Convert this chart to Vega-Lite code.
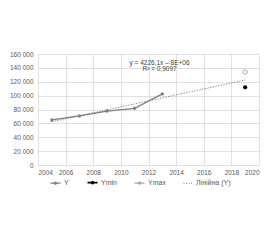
{
  "$schema": "https://vega.github.io/schema/vega-lite/v6.json",
  "width": 221,
  "height": 111,
  "autosize": "none",
  "padding": {"left": 38, "top": 54, "right": 21, "bottom": 75},
  "background": "white",
  "config": {
    "view": {"stroke": null},
    "font": "Liberation Sans",
    "axis": {"labelFontSize": 6.5, "labelColor": "#595959", "gridColor": "#d9d9d9", "gridWidth": 0.8, "domain": false, "ticks": false, "title": null}
  },
  "data": {"values": [
    {"year": 2005, "series": "Y", "value": 65000},
    {"year": 2007, "series": "Y", "value": 70800},
    {"year": 2009, "series": "Y", "value": 77800},
    {"year": 2011, "series": "Y", "value": 81700},
    {"year": 2013, "series": "Y", "value": 102500},
    {"year": 2019, "series": "Ymin", "value": 112000},
    {"year": 2019, "series": "Ymax", "value": 134000}
  ]},
  "encoding": {
    "x": {"field": "year", "type": "quantitative", "scale": {"domain": [2004, 2020], "nice": false, "zero": false},
      "axis": {"values": [2004, 2006, 2008, 2010, 2012, 2014, 2016, 2018, 2020], "format": "d", "labelPadding": 4, "gridColor": "#d9d9d9"}},
    "y": {"field": "value", "type": "quantitative", "scale": {"domain": [0, 160000], "nice": false},
      "axis": {"values": [0, 20000, 40000, 60000, 80000, 100000, 120000, 140000, 160000], "labelExpr": "replace(format(datum.value, ',d'), ',', ' ')", "labelPadding": 5}}
  },
  "layer": [
    {
      "transform": [{"filter": "datum.series === 'Y'"}, {"regression": "value", "on": "year", "extent": [2005, 2019]}],
      "mark": {"type": "line", "strokeDash": [1.2, 1.5], "strokeWidth": 1},
      "encoding": {"color": {"datum": "Лінійна (Y)", "type": "nominal",
        "scale": {"domain": ["Y", "Ymin", "Ymax", "Лінійна (Y)"], "range": ["#7f7f7f", "#000000", "#a6a6a6", "#7f7f7f"]},
        "legend": {"title": null, "orient": "none", "legendX": 14, "legendY": 125, "direction": "horizontal", "labelFontSize": 7, "labelColor": "#595959", "symbolSize": 400, "columnPadding": 15, "labelOffset": 5,
          "encode": {"symbols": {"update": {
            "shape": {"signal": "datum.value === 'Лінійна (Y)' ? 'M-0.4,0H0.5' : datum.value === 'Ymax' ? 'M-0.5,0H-0.11M0.11,0H0.5M0.11,0A0.11,0.11 0 1 1 -0.11,0A0.11,0.11 0 1 1 0.11,0' : 'M-0.5,0H0.5M0.1,0A0.1,0.1 0 1 1 -0.1,0A0.1,0.1 0 1 1 0.1,0'"},
            "fill": {"signal": "datum.value === 'Ymax' ? 'white' : datum.value === 'Лінійна (Y)' ? 'transparent' : datum.value === 'Ymin' ? 'black' : '#7f7f7f'"},
            "stroke": {"signal": "datum.value === 'Ymin' ? 'black' : datum.value === 'Ymax' ? '#a6a6a6' : '#7f7f7f'"},
            "strokeDash": {"signal": "datum.value === 'Лінійна (Y)' ? [1, 1.5] : [1, 0]"},
            "strokeWidth": {"signal": "datum.value === 'Ymin' ? 1.6 : 1.1"},
            "opacity": {"value": 1}
          }}}
        }}}
    },
    {
      "transform": [{"filter": "datum.series === 'Y'"}],
      "mark": {"type": "line", "strokeWidth": 1.3, "point": {"filled": true, "size": 12}},
      "encoding": {"color": {"datum": "Y", "type": "nominal"}}
    },
    {
      "transform": [{"filter": "datum.series === 'Ymin'"}],
      "mark": {"type": "point", "filled": true, "size": 18, "opacity": 1},
      "encoding": {"color": {"datum": "Ymin", "type": "nominal"}}
    },
    {
      "transform": [{"filter": "datum.series === 'Ymax'"}],
      "mark": {"type": "point", "filled": false, "fill": "white", "size": 18, "strokeWidth": 1, "opacity": 1},
      "encoding": {"color": {"datum": "Ymax", "type": "nominal"}}
    },
    {
      "data": {"values": [
        {"year": 2012.8, "value": 147500, "label": "y = 4226,1x – 8E+06"},
        {"year": 2012.8, "value": 139000, "label": "R² = 0,9097"}
      ]},
      "mark": {"type": "text", "fontSize": 6.5, "color": "#404040", "align": "center", "baseline": "middle"},
      "encoding": {"text": {"field": "label"}}
    }
  ]
}
